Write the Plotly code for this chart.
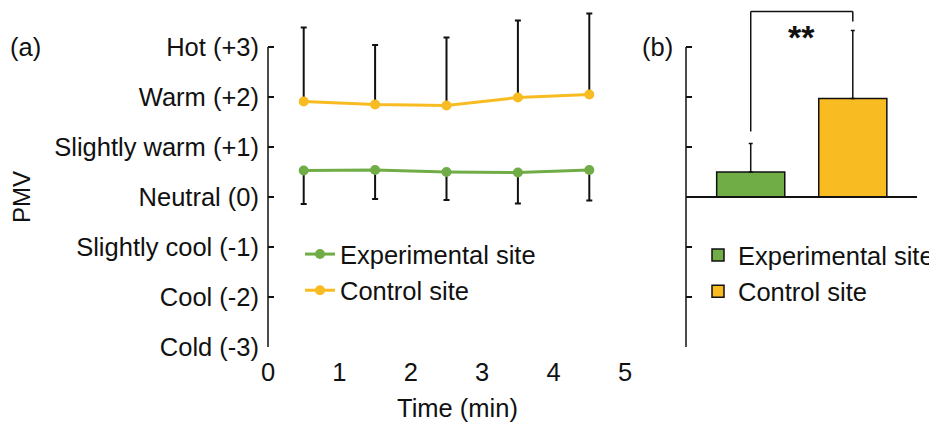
import plotly.graph_objects as go

# ---------------- data ----------------
time_min = [0.5, 1.5, 2.5, 3.5, 4.5]
exp_pmv = [0.53, 0.54, 0.50, 0.49, 0.54]
exp_err = [0.67, 0.58, 0.56, 0.62, 0.61]
ctrl_pmv = [1.91, 1.85, 1.83, 1.99, 2.05]
ctrl_err = [1.48, 1.19, 1.36, 1.54, 1.62]

sites = ["Experimental site", "Control site"]
site_mean = [0.50, 1.97]
site_err = [0.57, 1.36]

pmv_ticks = [-3, -2, -1, 0, 1, 2, 3]
pmv_labels = ["Cold (-3)", "Cool (-2)", "Slightly cool (-1)", "Neutral (0)",
              "Slightly warm (+1)", "Warm (+2)", "Hot (+3)"]
time_ticks = [0, 1, 2, 3, 4, 5]

GREEN = "#70AD47"
YELLOW = "#F8BB22"
INK = "#111111"
FONT = "Liberation Sans, Arial, sans-serif"
FS = 25.5

# The page body has an 8px margin, so the figure is shrunk by that amount and
# layout positions (given in window pixels) are converted accordingly.
OFF = 8
W, H = 937 - OFF, 427 - OFF
def px(xp):
    return (xp - OFF) / W
def py(yp):
    return 1 - (yp - OFF) / H

# data axes extend above +3 so error bars are not clipped; the visible axis
# line is drawn only from -3 to +3
Y_RANGE = [-3, 3.76]
Y_DOM = [py(347), py(9)]
def y_to_paper(v):
    return Y_DOM[0] + (v - Y_RANGE[0]) / (Y_RANGE[1] - Y_RANGE[0]) * (Y_DOM[1] - Y_DOM[0])

XA_DOM = [px(268), px(625)]
XB_DOM = [px(686), px(917)]

fig = go.Figure()

fig.add_trace(go.Scatter(
    x=time_min, y=exp_pmv, name="Experimental site", mode="lines+markers",
    line=dict(color=GREEN, width=3), marker=dict(color=GREEN, size=10),
    error_y=dict(type="data", symmetric=False, array=[0]*len(exp_err), arrayminus=exp_err,
                 color=INK, thickness=2, width=3),
    xaxis="x", yaxis="y", legend="legend"))
fig.add_trace(go.Scatter(
    x=time_min, y=ctrl_pmv, name="Control site", mode="lines+markers",
    line=dict(color=YELLOW, width=3), marker=dict(color=YELLOW, size=10),
    error_y=dict(type="data", symmetric=False, array=ctrl_err, arrayminus=[0]*len(ctrl_err),
                 color=INK, thickness=2, width=3),
    xaxis="x", yaxis="y", legend="legend"))

for i, s in enumerate(sites):
    fig.add_trace(go.Bar(
        x=[i], y=[site_mean[i]], name=s, width=0.667,
        marker=dict(color=[GREEN, YELLOW][i], line=dict(color=INK, width=1.5)),
        error_y=dict(type="data", symmetric=False, array=[site_err[i]], arrayminus=[0],
                     color=INK, thickness=1.5, width=2),
        xaxis="x2", yaxis="y2", legend="legend2"))

tick_common = dict(ticks="inside", ticklen=6, tickwidth=1.5, tickcolor=INK,
                   showgrid=False, zeroline=False)

fig.update_layout(
    width=W, height=H, margin=dict(l=0, r=0, t=0, b=0, autoexpand=False),
    paper_bgcolor="white", plot_bgcolor="rgba(0,0,0,0)",
    font=dict(family=FONT, size=FS, color=INK),
    showlegend=True,
    xaxis=dict(domain=XA_DOM, range=[0, 5], anchor="y",
               tickvals=time_ticks, ticks="", showline=False, showgrid=False,
               zeroline=False, ticklabelstandoff=7),
    xaxis3=dict(domain=XA_DOM, range=[0, 5], overlaying="x",
                anchor="free", position=y_to_paper(0), tickvals=[1, 2, 3, 4, 5],
                showline=True, linecolor=INK, linewidth=1.5,
                showticklabels=False, **tick_common),
    yaxis=dict(domain=Y_DOM, range=Y_RANGE, anchor="x",
               tickvals=pmv_ticks, ticktext=pmv_labels, showline=False,
               ticklabelstandoff=8, **tick_common),
    xaxis2=dict(domain=XB_DOM, range=[-0.634, 1.629], anchor="free",
                position=y_to_paper(0), showline=True, linecolor=INK, linewidth=1.5,
                ticks="", showticklabels=False, showgrid=False, zeroline=False),
    yaxis2=dict(domain=Y_DOM, range=Y_RANGE, anchor="x2", tickvals=pmv_ticks,
                showline=False, showticklabels=False, **tick_common),
    legend=dict(x=px(300), y=py(231), xanchor="left", yanchor="top",
                bgcolor="rgba(0,0,0,0)", tracegroupgap=0),
    legend2=dict(x=px(698), y=py(232), xanchor="left", yanchor="top",
                 bgcolor="rgba(0,0,0,0)", tracegroupgap=0),
)

# visible y-axis lines from -3 to +3
for xd in (XA_DOM[0], XB_DOM[0]):
    fig.add_shape(type="line", xref="paper", yref="paper", x0=xd, x1=xd,
                  y0=y_to_paper(pmv_ticks[0]), y1=y_to_paper(pmv_ticks[-1]),
                  line=dict(color=INK, width=1.5))

# Axis titles and panel labels
fig.add_annotation(x=px(22), y=py(197), xref="paper", yref="paper", text="PMV",
                   textangle=-90, showarrow=False, font=dict(size=24),
                   xanchor="center", yanchor="middle")
fig.add_annotation(x=px(457), y=py(408), xref="paper", yref="paper", text="Time (min)",
                   showarrow=False, xanchor="center", yanchor="middle")
fig.add_annotation(x=px(8), y=py(47), xref="paper", yref="paper", text="(a)",
                   showarrow=False, xanchor="left", yanchor="middle")
fig.add_annotation(x=px(640), y=py(47), xref="paper", yref="paper", text="(b)",
                   showarrow=False, xanchor="left", yanchor="middle")

# Significance bracket derived from the bar data
left_bottom = site_mean[0] + site_err[0] + 0.24
right_bottom = site_mean[1] + site_err[1] + 0.18
top = site_mean[1] + site_err[1] + 0.38
for (x0, y0, x1, y1) in [(0, left_bottom, 0, top), (0, top, 1, top), (1, top, 1, right_bottom)]:
    fig.add_shape(type="line", xref="x2", yref="y2", x0=x0, x1=x1, y0=y0, y1=y1,
                  line=dict(color=INK, width=1.5))
fig.add_annotation(x=0.5, y=top - 0.5, xref="x2", yref="y2", text="<b>**</b>",
                   showarrow=False, font=dict(size=34), xanchor="center", yanchor="middle")

fig.write_html("out.html")
